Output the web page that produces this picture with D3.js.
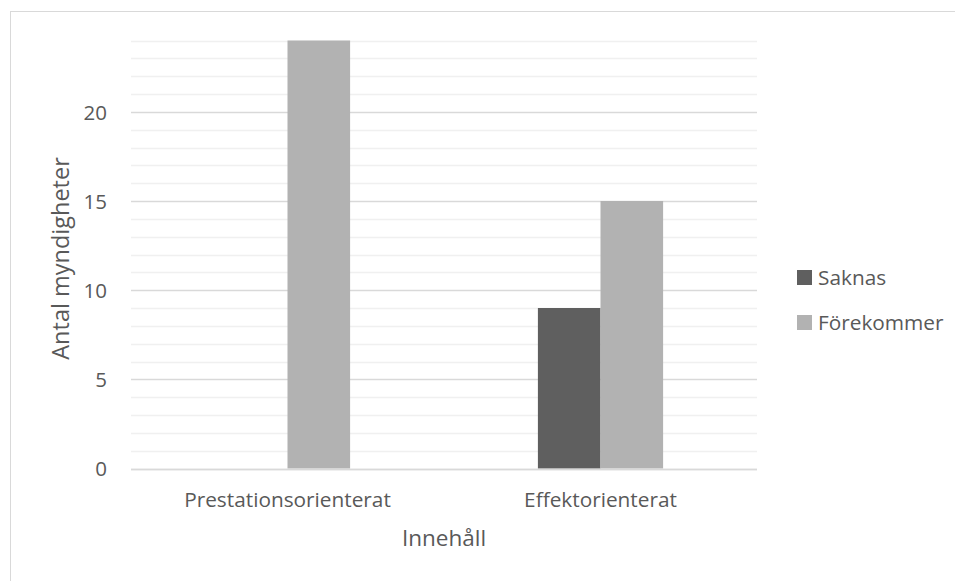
<!DOCTYPE html>
<html>
<head>
<meta charset="utf-8">
<script src="https://cdn.jsdelivr.net/npm/d3@7"></script>
<style>
  html, body { margin: 0; padding: 0; background: #fff; }
  svg text { font-family: "Open Sans", "Noto Sans", sans-serif; fill: #595959; }
</style>
</head>
<body>
<svg id="chart" width="955" height="581"></svg>
<script>
// Number of agencies per content type, split by whether the item is missing or present
const categories = ["Prestationsorienterat", "Effektorienterat"];
const seriesNames = ["Saknas", "Förekommer"];
const saknas = [0, 9];
const forekommer = [24, 15];
const yTicks = [0, 5, 10, 15, 20];
const colors = ["#5f5f5f", "#b2b2b2"];

const svg = d3.select("#chart");
const W = 955, H = 581;

// chart frame
svg.append("rect")
  .attr("x", 10.5).attr("y", 11.5)
  .attr("width", W).attr("height", H)
  .attr("fill", "#fff").attr("stroke", "#d9d9d9").attr("stroke-width", 1);

const plot = { left: 131, right: 757, top: 40.5, bottom: 468.5 };

const y = d3.scaleLinear().domain([0, 24]).range([plot.bottom, plot.top]);
const x0 = d3.scaleBand().domain(categories).range([plot.left, plot.right]);
const groupW = x0.bandwidth() * 0.4;
const x1 = d3.scaleBand().domain(seriesNames).range([0, groupW]);

const g = svg.append("g");

// minor gridlines every unit
g.append("g").selectAll("line")
  .data(d3.range(1, 25).filter(v => v % 5 !== 0))
  .join("line")
  .attr("x1", plot.left).attr("x2", plot.right)
  .attr("y1", d => Math.round(y(d)) + 0.5).attr("y2", d => Math.round(y(d)) + 0.5)
  .attr("stroke", "#f0f0f0").attr("stroke-width", 1.3);

// major gridlines
g.append("g").selectAll("line")
  .data(yTicks)
  .join("line")
  .attr("x1", plot.left).attr("x2", plot.right)
  .attr("y1", d => Math.round(y(d)) + 0.5).attr("y2", d => Math.round(y(d)) + 0.5)
  .attr("stroke", "#d9d9d9").attr("stroke-width", 1.3);

// bars
const rows = categories.map((c, i) => ({ cat: c, values: [saknas[i], forekommer[i]] }));
const groups = g.append("g").selectAll("g")
  .data(rows)
  .join("g")
  .attr("transform", d => `translate(${x0(d.cat) + (x0.bandwidth() - groupW) / 2},0)`);

groups.selectAll("rect")
  .data(d => d.values.map((v, j) => ({ name: seriesNames[j], v, j })))
  .join("rect")
  .attr("x", d => x1(d.name))
  .attr("width", x1.bandwidth())
  .attr("y", d => y(d.v))
  .attr("height", d => y(0) - y(d.v))
  .attr("fill", d => colors[d.j]);

// baseline drawn over bars
g.append("line")
  .attr("x1", plot.left).attr("x2", plot.right)
  .attr("y1", Math.round(y(0)) + 0.5).attr("y2", Math.round(y(0)) + 0.5)
  .attr("stroke", "#d9d9d9").attr("stroke-width", 1.3);

// y tick labels
const yAxis = d3.axisLeft(y).tickValues(yTicks).tickSize(0).tickPadding(0);
const ya = svg.append("g").attr("transform", "translate(107,0)").call(yAxis)
  .attr("font-family", null).attr("font-size", null);
ya.select(".domain").remove();
ya.selectAll("text").attr("font-size", 20.5).attr("dy", "0.36em").attr("fill", "#595959");

// x category labels
const xAxis = d3.axisBottom(x0).tickSize(0).tickPadding(0);
const xa = svg.append("g").attr("transform", "translate(0,507)").call(xAxis)
  .attr("font-family", null).attr("font-size", null);
xa.select(".domain").remove();
xa.selectAll("text").attr("font-size", 20.8).attr("dy", 0).attr("fill", "#595959");

// axis titles
svg.append("text")
  .attr("x", (plot.left + plot.right) / 2).attr("y", 546)
  .attr("text-anchor", "middle").attr("font-size", 22.5)
  .text("Innehåll");

svg.append("text")
  .attr("transform", `translate(69,${(plot.top + plot.bottom) / 2 + 4}) rotate(-90)`)
  .attr("text-anchor", "middle").attr("font-size", 23.5)
  .text("Antal myndigheter");

// legend
const legend = svg.append("g").selectAll("g")
  .data(seriesNames)
  .join("g")
  .attr("transform", (d, i) => `translate(797,${270 + i * 45})`);
legend.append("rect").attr("width", 15).attr("height", 15).attr("fill", (d, i) => colors[i]);
legend.append("text").attr("x", 21).attr("y", 7.5).attr("dy", "0.36em")
  .attr("font-size", 20.8).text(d => d);
</script>
</body>
</html>
